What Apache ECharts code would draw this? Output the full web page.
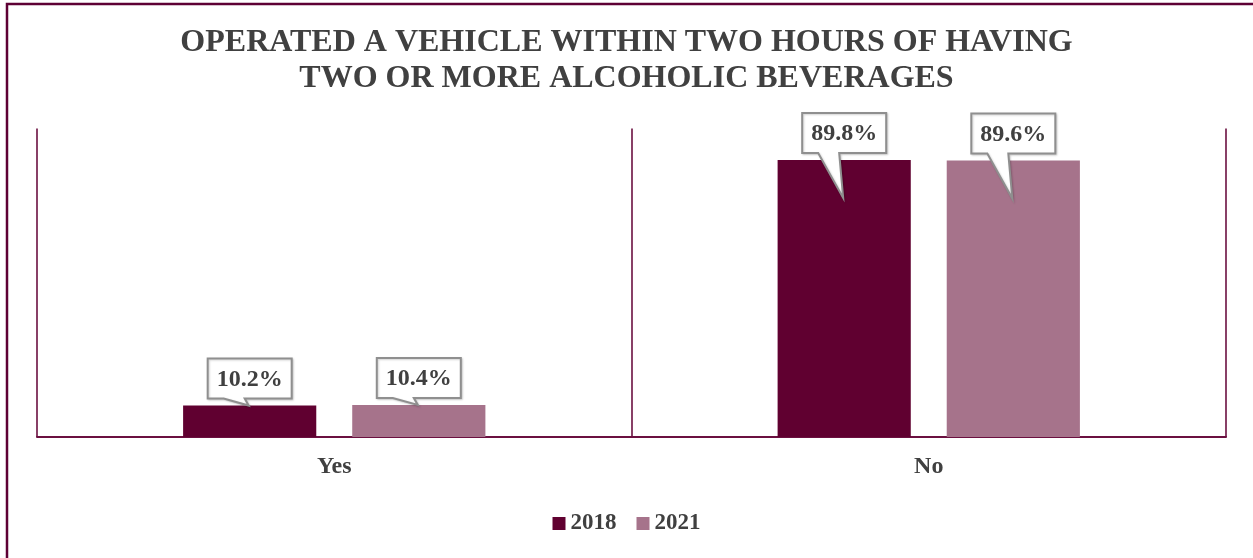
<!DOCTYPE html>
<html>
<head>
<meta charset="utf-8">
<title>Operated a vehicle within two hours of having two or more alcoholic beverages</title>
<script src="https://cdn.jsdelivr.net/npm/echarts@6/dist/echarts.min.js"></script>
<style>
  html, body { margin: 0; padding: 0; background: #ffffff; }
  #chart { width: 1253px; height: 558px; }
</style>
</head>
<body>
<div id="chart"></div>
<script>
// Survey answers and the share of respondents for each year
const categories = ['Yes', 'No'];
const years = ['2018', '2021'];
const values2018 = [10.2, 89.8];
const values2021 = [10.4, 89.6];

const COLOR_2018 = '#600030';
const COLOR_2021 = '#A6738B';
const FRAME = '#6B1040';
const TEXT = '#404040';
const SERIF = '"Liberation Serif", "DejaVu Serif", serif';

const BAR_WIDTH = 0.224;   // share of a category band
const BAR_GAP = 0.27;      // share of a bar width

// Callout box with a pointer that ends on (or inside) the bar it labels
function calloutRenderer(side) {
  return function (params, api) {
    const idx = api.value(0);
    const val = api.value(1);
    const band = api.size([1, 0])[0];
    const barW = band * BAR_WIDTH;
    const offset = (barW + barW * BAR_GAP) / 2 * side;
    const top = api.coord([idx, val]);
    const base = api.coord([idx, 0]);
    const cx = top[0] + offset;
    const barTop = top[1];
    const barH = base[1] - barTop;
    const tipY = barH > 100 ? barTop + 38 : barTop;
    const boxW = 84, boxH = 40;
    const bottom = barTop - 7;
    const L = cx - boxW / 2, R = cx + boxW / 2, T = bottom - boxH;
    const points = [
      [L, T], [R, T], [R, bottom], [cx - 5, bottom],
      [cx - 1, tipY], [cx - 26, bottom], [L, bottom]
    ];
    return {
      type: 'group',
      children: [
        {
          type: 'polygon',
          shape: { points: points },
          style: {
            fill: '#ffffff', stroke: '#8f8f8f', lineWidth: 2,
            shadowColor: 'rgba(0,0,0,0.18)', shadowBlur: 2, shadowOffsetX: 1, shadowOffsetY: 1
          }
        },
        {
          type: 'text',
          style: {
            text: val.toFixed(1) + '%',
            x: cx, y: T + boxH / 2 + 1,
            align: 'center', verticalAlign: 'middle',
            font: 'bold 24px ' + SERIF,
            fill: TEXT
          }
        }
      ]
    };
  };
}

const chart = echarts.init(document.getElementById('chart'), null, { renderer: 'canvas' });

chart.setOption({
  backgroundColor: '#ffffff',
  animation: false,
  title: {
    text: 'OPERATED A VEHICLE WITHIN TWO HOURS OF HAVING\nTWO OR MORE ALCOHOLIC BEVERAGES',
    left: 'center',
    top: 20,
    textStyle: {
      fontFamily: SERIF, fontWeight: 'bold', fontSize: 32, lineHeight: 36, color: TEXT
    }
  },
  legend: {
    data: years,
    left: 'center',
    top: 507,
    itemWidth: 13,
    itemHeight: 13,
    itemGap: 20,
    icon: 'rect',
    textStyle: { fontFamily: SERIF, fontWeight: 'bold', fontSize: 23, color: TEXT }
  },
  grid: { left: 37, right: 27, top: 128.5, bottom: 121, containLabel: false },
  xAxis: {
    type: 'category',
    data: categories,
    axisLine: { show: true, lineStyle: { color: FRAME, width: 2 } },
    axisTick: { show: false },
    splitLine: { show: true, lineStyle: { color: FRAME, width: 1.6 } },
    axisLabel: {
      margin: 18,
      fontFamily: SERIF, fontWeight: 'bold', fontSize: 24, color: TEXT
    }
  },
  yAxis: {
    type: 'value',
    min: 0,
    max: 100,
    show: false,
    splitLine: { show: false }
  },
  graphic: [
    {
      type: 'rect',
      shape: { x: 7, y: 4, width: 1270, height: 580 },
      style: { fill: 'none', stroke: '#5E0034', lineWidth: 2.5 },
      silent: true
    }
  ],
  series: [
    {
      name: '2018', type: 'bar', data: values2018,
      barWidth: (BAR_WIDTH * 100) + '%', barGap: (BAR_GAP * 100) + '%',
      itemStyle: { color: COLOR_2018 }
    },
    {
      name: '2021', type: 'bar', data: values2021,
      barWidth: (BAR_WIDTH * 100) + '%', barGap: (BAR_GAP * 100) + '%',
      itemStyle: { color: COLOR_2021 }
    },
    {
      name: 'callout2018', type: 'custom',
      data: values2018.map((v, i) => [i, v]),
      renderItem: calloutRenderer(-1), z: 5
    },
    {
      name: 'callout2021', type: 'custom',
      data: values2021.map((v, i) => [i, v]),
      renderItem: calloutRenderer(1), z: 5
    }
  ]
});
</script>
</body>
</html>
